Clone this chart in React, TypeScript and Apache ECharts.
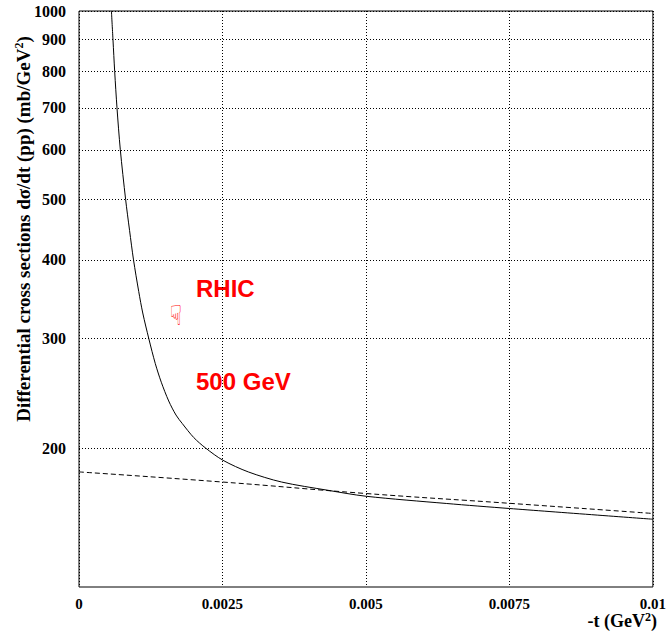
import React, { useEffect, useRef } from "react";
import * as echarts from "echarts";

// -t (GeV^2) and dσ/dt (mb/GeV^2)
const solidT = [0.000565, 0.000592, 0.000622, 0.000662, 0.00072, 0.000812, 0.000881, 0.00095, 0.001041, 0.001111, 0.001218, 0.00133, 0.001434, 0.001563, 0.00169, 0.0018, 0.002, 0.00221, 0.00251, 0.00295, 0.00353, 0.00434, 0.005, 0.0064, 0.0075, 0.01];
const solidSigma = [1000, 900, 800, 700, 600, 500, 446, 400, 356, 329, 299, 273, 255, 238, 226, 219, 208, 200, 191.3, 183.3, 176.6, 171.3, 167.6, 163.2, 160.2, 154.0];

const dashedT = [0, 0.0025, 0.005, 0.0075, 0.01];
const dashedSigma = [183.3, 176.6, 169.3, 163.3, 157.3];

const yTicks = [200, 300, 400, 500, 600, 700, 800, 900, 1000];
const yMin = 120;
const yMax = 1000;
const xTicks = [0, 0.0025, 0.005, 0.0075, 0.01];

const lg = (v: number) => Math.log10(v);

export default function App() {
  const ref = useRef<HTMLDivElement>(null);
  useEffect(() => {
    if (!ref.current) return;
    const chart = echarts.init(ref.current, undefined, { renderer: "svg" });
    const serif = "'Liberation Serif', 'Times New Roman', serif";
    const sans = "'Liberation Sans', Arial, sans-serif";
    const grid = { left: 79, top: 11, right: 11, bottom: 53 };
    const dotted = { color: "#000", width: 1, type: [1, 2] as number[] };
    chart.setOption({
      animation: false,
      backgroundColor: "#fff",
      grid: { ...grid, show: true, borderColor: "#000", borderWidth: 1, backgroundColor: "transparent" },
      xAxis: {
        type: "value",
        min: xTicks[0],
        max: xTicks[xTicks.length - 1],
        interval: 0.0025,
        axisLine: { show: false },
        axisTick: { show: false },
        splitLine: { show: true, lineStyle: dotted },
        axisLabel: {
          color: "#000",
          fontFamily: serif,
          fontWeight: "bold",
          fontSize: 15,
          margin: 9,
          showMinLabel: true,
          showMaxLabel: true,
          formatter: (v: number) => String(+v.toFixed(4)),
        },
      },
      yAxis: {
        type: "value",
        min: lg(yMin),
        max: lg(yMax),
        axisLine: { show: false },
        axisTick: { show: false, customValues: yTicks.map(lg) },
        splitLine: { show: true, lineStyle: dotted },
        axisLabel: {
          customValues: yTicks.map(lg),
          color: "#000",
          fontFamily: serif,
          fontWeight: "bold",
          fontSize: 16,
          margin: 13,
          formatter: (v: number) => String(Math.round(Math.pow(10, v))),
        },
      },
      series: [
        {
          type: "line",
          data: solidT.map((t, i) => [t, lg(solidSigma[i])]),
          showSymbol: false,
          smooth: 0.3,
          clip: true,
          lineStyle: { color: "#000", width: 1 },
        },
        {
          type: "line",
          data: dashedT.map((t, i) => [t, lg(dashedSigma[i])]),
          showSymbol: false,
          smooth: true,
          clip: true,
          lineStyle: { color: "#000", width: 1, type: [5, 3] },
        },
      ],
      graphic: [
        {
          type: "text",
          x: 23,
          y: 229,
          rotation: Math.PI / 2,
          style: {
            text: "{a|Differential cross sections dσ/dt (pp) (mb/GeV}{s|2}{a|)}",
            align: "center",
            verticalAlign: "middle",
            fill: "#000",
            rich: {
              a: { fontFamily: serif, fontWeight: "bold", fontSize: 19, fill: "#000" },
              s: { fontFamily: serif, fontWeight: "bold", fontSize: 12, fill: "#000", verticalAlign: "top", padding: [0, 0, 9, 0] },
            },
          },
        },
        {
          type: "text",
          x: 657,
          y: 621,
          style: {
            text: "{a|-t (GeV}{s|2}{a|)}",
            align: "right",
            verticalAlign: "middle",
            fill: "#000",
            rich: {
              a: { fontFamily: serif, fontWeight: "bold", fontSize: 18, fill: "#000" },
              s: { fontFamily: serif, fontWeight: "bold", fontSize: 12, fill: "#000", verticalAlign: "top", padding: [0, 0, 8, 0] },
            },
          },
        },
        {
          type: "text",
          x: 196,
          y: 288,
          style: { text: "RHIC", fill: "#ff0000", fontFamily: sans, fontWeight: "bold", fontSize: 24, align: "left", verticalAlign: "middle" },
        },
        {
          type: "text",
          x: 196,
          y: 381,
          style: { text: "500 GeV", fill: "#ff0000", fontFamily: sans, fontWeight: "bold", fontSize: 24, align: "left", verticalAlign: "middle" },
        },
        {
          type: "text",
          x: 176,
          y: 316,
          scaleX: 0.7,
          style: { text: "☟", fill: "#ff0000", fontFamily: "'DejaVu Sans'", fontSize: 28, align: "center", verticalAlign: "middle" },
        },
      ],
    });
    return () => chart.dispose();
  }, []);
  return (
    <div
      ref={ref}
      style={{ position: "fixed", left: 0, top: 0, width: 669, height: 640, background: "#fff" }}
    />
  );
}
